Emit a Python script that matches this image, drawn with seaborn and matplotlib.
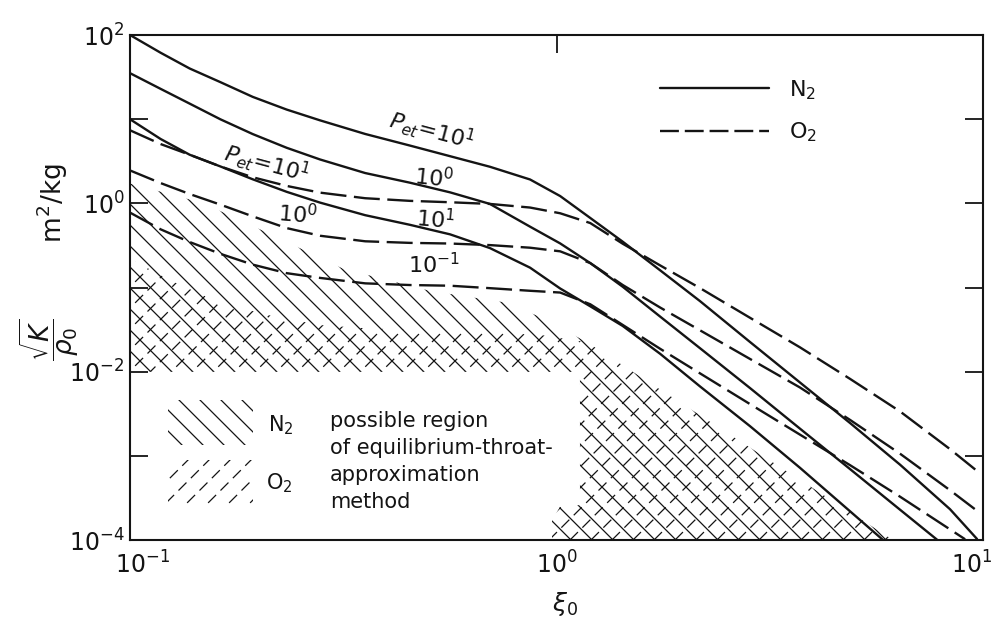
import numpy as np
import pandas as pd
import matplotlib
matplotlib.use('Agg')
import matplotlib.pyplot as plt
import matplotlib.transforms as mtransforms
from matplotlib.collections import LineCollection
from matplotlib.patches import Polygon
from matplotlib.lines import Line2D
from matplotlib.ticker import FixedLocator, FuncFormatter, NullLocator
import seaborn as sns

# Curves (xi_0 , sqrt(K)/rho_0 in m^2/kg)
xi_grid = [0.100, 0.118, 0.138, 0.163, 0.194, 0.233, 0.279, 0.356, 0.453, 0.563, 0.698,
           0.867, 1.02, 1.20, 1.43, 1.75, 2.17, 2.84, 3.72, 4.88, 6.39, 8.37]

n2_p10_x = xi_grid + [9.68]
n2_p10_y = [100, 61.5, 40.0, 27.5, 18.4, 13.0, 9.68, 6.67, 4.86, 3.63, 2.72,
            1.92, 1.22, 0.670, 0.350, 0.160, 0.0689, 0.0226, 0.00746, 0.00245, 0.000785, 0.000232, 0.000103]

n2_p1_x = xi_grid[:21] + [7.80]
n2_p1_y = [35.2, 22.9, 15.3, 9.95, 6.65, 4.57, 3.32, 2.29, 1.76, 1.35, 0.984,
           0.528, 0.334, 0.195, 0.102, 0.0451, 0.0190, 0.00641, 0.00211, 0.000695, 0.000229, 0.000101]

n2_p01_x = xi_grid[:20] + [5.83]
n2_p01_y = [9.98, 5.81, 3.78, 2.74, 1.93, 1.37, 1.02, 0.723, 0.556, 0.428, 0.294,
            0.172, 0.0973, 0.0598, 0.0349, 0.0163, 0.00668, 0.00226, 0.000723, 0.000219, 0.000100]

o2_p10_x = xi_grid + [9.68]
o2_p10_y = [7.38, 5.06, 3.78, 2.74, 2.04, 1.61, 1.34, 1.15, 1.07, 1.03, 0.984,
            0.891, 0.762, 0.583, 0.331, 0.183, 0.0984, 0.0438, 0.0195, 0.00820, 0.00337, 0.00120, 0.000662]

o2_p1_x = xi_grid + [9.84]
o2_p1_y = [2.46, 1.74, 1.29, 0.964, 0.700, 0.508, 0.412, 0.354, 0.339, 0.333, 0.319,
           0.297, 0.269, 0.195, 0.107, 0.0578, 0.0310, 0.0142, 0.00650, 0.00267, 0.00106, 0.000390, 0.000209]

o2_p01_x = xi_grid[:21] + [9.08]
o2_p01_y = [0.776, 0.491, 0.347, 0.251, 0.187, 0.148, 0.130, 0.112, 0.107, 0.105, 0.0982,
            0.0914, 0.0871, 0.0632, 0.0359, 0.0187, 0.00955, 0.00413, 0.00179, 0.000774, 0.000327, 0.000102]

# possible regions (outline of hatched areas)
n2_region_x = [0.100, 0.148, 0.216, 0.316, 0.505, 0.750, 0.914, 1.18, 6.15, 0.976, 0.976, 1.02, 1.135, 1.135, 0.100]
n2_region_y = [1.72, 1.01, 0.418, 0.167, 0.0912, 0.0670, 0.0449, 0.0223, 1e-4, 1e-4, 1.7e-4, 2.5e-4, 2.6e-4, 1e-2, 1e-2]
o2_region_x = [0.100, 0.124, 0.163, 0.213, 0.279, 0.366, 0.562, 0.914, 1.18, 6.15, 0.976, 0.976, 1.02, 1.135, 1.135, 0.100]
o2_region_y = [0.220, 0.122, 0.0655, 0.0465, 0.0358, 0.0325, 0.0306, 0.0274, 0.0223, 1e-4, 1e-4, 1.7e-4, 2.5e-4, 2.6e-4, 1e-2, 1e-2]

x_ticks = [0.1, 1, 10]
y_ticks = [1e-4, 1e-3, 1e-2, 1e-1, 1, 10, 100]

INK = '#141414'

curves = [
    ('N2', '10^1', n2_p10_x, n2_p10_y),
    ('N2', '10^0', n2_p1_x, n2_p1_y),
    ('N2', '10^-1', n2_p01_x, n2_p01_y),
    ('O2', '10^1', o2_p10_x, o2_p10_y),
    ('O2', '10^0', o2_p1_x, o2_p1_y),
    ('O2', '10^-1', o2_p01_x, o2_p01_y),
]
df = pd.concat([pd.DataFrame({'xi': x, 'val': y, 'gas': g, 'pet': g + p})
                for g, p, x, y in curves], ignore_index=True)

sns.set_style('ticks')
plt.rcParams['font.family'] = ['DejaVu Sans']
plt.rcParams['mathtext.fontset'] = 'dejavusans'

fig = plt.figure(figsize=(9.98, 6.34), dpi=100)
ax = fig.add_axes([130 / 998, 94 / 634, 853 / 998, 505 / 634])
ax.set_xscale('log')
ax.set_yscale('log')
ax.set_xlim(0.1, 10)
ax.set_ylim(1e-4, 1e2)

# hatching drawn as clipped line families (O2 hatch is dashed)
pos = ax.get_position()
W = pos.width * fig.get_figwidth() * fig.dpi
H = pos.height * fig.get_figheight() * fig.dpi


def hatch(patch, direction, spacing=21, **kw):
    ax.add_patch(patch)
    segs = []
    for c in np.arange(-H, W + spacing, spacing):
        if direction == '\\':
            segs.append([(c / W, 1), ((c + H) / W, 0)])
        else:
            segs.append([(c / W, 0), ((c + H) / W, 1)])
    lc = LineCollection(segs, transform=ax.transAxes, colors=INK, **kw)
    ax.add_collection(lc, autolim=False)
    lc.set_clip_path(patch)


hatch(Polygon(np.column_stack([n2_region_x, n2_region_y]), closed=True,
              facecolor='none', edgecolor='none'), '\\', linewidths=0.9)
hatch(Polygon(np.column_stack([o2_region_x, o2_region_y]), closed=True,
              facecolor='none', edgecolor='none'), '/', linewidths=0.9,
      linestyles=(0, (9, 5)))


# hatch samples inside the white box
def box(x0, y0, w, h):
    return Polygon([(x0, y0), (x0 + w, y0), (x0 + w, y0 + h), (x0, y0 + h)], closed=True,
                   transform=ax.transAxes, facecolor='none', edgecolor='none')


hatch(box(0.045, 0.188, 0.099, 0.089), '\\', linewidths=0.9)
hatch(box(0.045, 0.069, 0.099, 0.089), '/', linewidths=0.9, linestyles=(0, (9, 5)))

sns.lineplot(data=df, x='xi', y='val', style='gas', units='pet', estimator=None,
             sort=False, color=INK, linewidth=1.7,
             dashes={'N2': '', 'O2': (11, 3.2)}, legend=False, ax=ax)

ax.set_xlim(0.1, 10)
ax.set_ylim(1e-4, 1e2)

# ticks
ax.xaxis.set_major_locator(FixedLocator(x_ticks))
ax.xaxis.set_minor_locator(NullLocator())
ax.yaxis.set_major_locator(FixedLocator(y_ticks))
ax.yaxis.set_minor_locator(NullLocator())
ax.xaxis.set_major_formatter(FuncFormatter(lambda v, p: r'$10^{%d}$' % round(np.log10(v))))
ax.yaxis.set_major_formatter(FuncFormatter(
    lambda v, p: r'$10^{%d}$' % round(np.log10(v)) if round(np.log10(v)) % 2 == 0 else ''))
ax.tick_params(axis='both', which='major', direction='in', length=13, width=1.3,
               labelsize=17, colors=INK, top=True, right=True, bottom=False)
ax.tick_params(axis='x', pad=8)
ax.tick_params(axis='y', pad=4)
for s in ax.spines.values():
    s.set_linewidth(1.5)
    s.set_color(INK)

# nudge the end x labels like the original (and keep the right one inside the picture)
xlabels = ax.get_xticklabels()
xlabels[0].set_transform(xlabels[0].get_transform()
                         + mtransforms.ScaledTranslation(9 / 72, 0, fig.dpi_scale_trans))
xlabels[-1].set_transform(xlabels[-1].get_transform()
                          + mtransforms.ScaledTranslation(-8 / 72, 0, fig.dpi_scale_trans))

ax.set_xlabel(r'$\xi_0$', fontsize=18, color=INK)
ax.xaxis.set_label_coords(0.51, -0.10)
ax.set_ylabel(r'$\dfrac{\sqrt{K}}{\rho_0}$         m$^2$/kg', fontsize=19, color=INK)
ax.yaxis.set_label_coords(-0.058, 0.55)

# curve labels
lab = dict(transform=ax.transAxes, fontsize=16, color=INK, ha='center', va='center')
ax.text(0.354, 0.812, r'$P_{et}$=10$^{1}$', rotation=-15, **lab)
ax.text(0.356, 0.717, r'10$^{0}$', rotation=-6, **lab)
ax.text(0.358, 0.634, r'10$^{1}$', rotation=-5, **lab)
ax.text(0.356, 0.545, r'10$^{-1}$', rotation=0, **lab)
ax.text(0.161, 0.745, r'$P_{et}$=10$^{1}$', rotation=-15, **lab)
ax.text(0.196, 0.644, r'10$^{0}$', rotation=-5, **lab)

# region legend text
ax.text(0.162, 0.228, r'N$_2$', transform=ax.transAxes, fontsize=15, color=INK, va='center')
ax.text(0.160, 0.112, r'O$_2$', transform=ax.transAxes, fontsize=15, color=INK, va='center')
ax.text(0.2345, 0.256, 'possible region\nof equilibrium-throat-\napproximation\nmethod',
        transform=ax.transAxes, fontsize=15, color=INK, va='top', ha='left', linespacing=1.45)

# line legend
handles = [Line2D([], [], color=INK, lw=1.7),
           Line2D([], [], color=INK, lw=1.7, dashes=(8, 2.5))]
ax.legend(handles, [r'N$_2$', r'O$_2$'], loc='upper left', bbox_to_anchor=(0.621, 0.915),
          frameon=False, fontsize=16, handlelength=4.9, handletextpad=0.9,
          labelspacing=0.85, borderpad=0, borderaxespad=0, labelcolor=INK)

fig.savefig('out.png', dpi=100)
